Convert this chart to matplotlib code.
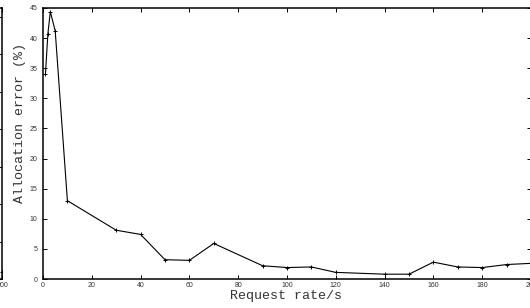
import matplotlib
matplotlib.use("Agg")
import matplotlib.pyplot as plt

# Main panel data (request rate vs allocation error)
rate = [1, 2, 3, 5, 10, 30, 40, 50, 60, 70, 90, 100, 110, 120, 140, 150, 160, 170, 180, 190, 200]
error = [34.0, 40.7, 44.4, 41.2, 13.0, 8.1, 7.4, 3.2, 3.1, 5.9, 2.2, 1.9, 2.0, 1.1, 0.8, 0.8, 2.8, 2.0, 1.9, 2.4, 2.6]

# Partially visible neighbouring panel (only its right edge is in frame)
left_x = [200]
left_y = [0.2]

xticks = list(range(0, 201, 20))
yticks = list(range(0, 46, 5))

W, H = 530, 308
fig = plt.figure(figsize=(W / 100, H / 100), dpi=100)

tickfont = "Liberation Sans"
labelfont = "Liberation Mono"
textcol = "#333333"

# main axes: left spine at x=43px, right spine just outside the image
ax = fig.add_axes([43 / W, (H - 279) / H, 488 / W, 271 / H])
ax.plot(rate, error, color="black", lw=0.8, marker="+", ms=3.2, mew=0.7)
ax.set_xlim(0, 200)
ax.set_ylim(0, 45)
ax.set_xticks(xticks)
ax.set_yticks(yticks)
ax.tick_params(direction="in", top=True, right=True, length=2.6, width=0.7,
               labelsize=5, labelcolor=textcol, color="black")
ax.tick_params(axis="x", pad=2.5)
ax.tick_params(axis="y", pad=4)
for lab in ax.get_xticklabels() + ax.get_yticklabels():
    lab.set_fontfamily(tickfont)
for s in ax.spines.values():
    s.set_linewidth(1.1)
ax.set_xlabel("Request rate/s", fontfamily=labelfont, fontsize=9.6, color=textcol)
ax.set_ylabel("Allocation error (%)", fontfamily=labelfont, fontsize=9.6, color=textcol)
ax.xaxis.set_label_coords(0.498, -17 / 271, transform=ax.transAxes)
ax.xaxis.label.set_va("center")
ax.yaxis.set_label_coords(-23 / 488, 0.575, transform=ax.transAxes)
ax.yaxis.label.set_va("center")

# neighbouring panel on the left, only its right spine visible
axl = fig.add_axes([2 / W - 0.4, (H - 279) / H, 0.4, 271 / H])
axl.plot(left_x, left_y, color="black", lw=0.8, marker="+", ms=3.2, mew=0.7)
axl.set_xlim(0, 200)
axl.set_ylim(0, 271 / 37.5)
axl.set_xticks([200])
axl.set_yticks(list(range(0, 8)))
axl.set_yticklabels([])
axl.tick_params(direction="in", top=True, right=True, length=2.6, width=0.7,
                labelsize=5, labelcolor=textcol)
axl.tick_params(axis="x", pad=2.5)
for lab in axl.get_xticklabels():
    lab.set_fontfamily(tickfont)
for s in axl.spines.values():
    s.set_linewidth(1.1)

fig.savefig("out.png", dpi=100)
